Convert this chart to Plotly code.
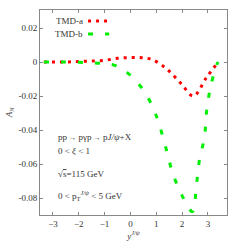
import plotly.graph_objects as go

# TMD-a (red dotted)
xa = [-3.35, -2.5, -2.0, -1.5, -1.0, -0.5, 0.0, 0.45, 0.85, 1.4, 1.98, 2.44, 2.95, 3.4]
ya = [0.0, 0.0, 0.0003, 0.0006, 0.001, 0.0022, 0.0026, 0.0025, 0.0014, -0.004, -0.013, -0.020, -0.009, 0.0]
# TMD-b (green dashed)
xb = [-3.35, -2.5, -2.0, -1.5, -1.0, -0.6, -0.1, 0.43, 0.85, 1.12, 1.4, 1.63, 1.98, 2.4,
      2.56, 2.67, 2.87, 2.95, 3.1, 3.33, 3.4]
yb = [0.0, 0.0, -0.0002, -0.0005, -0.001, -0.002, -0.0065, -0.015, -0.026, -0.037, -0.052,
      -0.065, -0.078, -0.088, -0.072, -0.058, -0.044, -0.029, -0.015, -0.002, 0.0]

xticks = [-3, -2, -1, 0, 1, 2, 3]
xticktext = ["\u22123", "\u22122", "\u22121", "0", "1", "2", "3"]
yticks = [0.02, 0.0, -0.02, -0.04, -0.06, -0.08]
yticktext = ["0.02", "0", "-0.02", "-0.04", "-0.06", "-0.08"]

series_names = ["TMD-a", "TMD-b"]
colors = ["#ff0000", "#00ee00"]
dashes = ["3px,5px", "5px,12px"]

font = "Liberation Serif"

fig = go.Figure()
fig.add_trace(go.Scatter(x=xa, y=ya, mode="lines", line=dict(color=colors[0], width=3, dash=dashes[0], shape="spline"),
                         name=series_names[0], showlegend=False))
fig.add_trace(go.Scatter(x=xb, y=yb, mode="lines", line=dict(color=colors[1], width=3, dash=dashes[1], shape="spline"),
                         name=series_names[1], showlegend=False))

# legend (gnuplot style: text then sample)
leg_y = [0.946, 0.883]
for name, c, d, ly in zip(series_names, colors, dashes, leg_y):
    fig.add_annotation(x=0.24, y=ly, xref="paper", yref="paper", text=name, showarrow=False,
                       xanchor="right", yanchor="middle", font=dict(family=font, size=9, color="#333"))
    fig.add_shape(type="line", x0=0.257, x1=0.37, y0=ly, y1=ly, xref="paper", yref="paper",
                  line=dict(color=c, width=3, dash=d))

arrow = "<span style='font-size:7px'>\u2192</span>"
labels = ["pp " + arrow + " p\u03b3p " + arrow + " p<i>J/\u03c8</i>+X",
          "0 &lt; <i>\u03be</i> &lt; 1",
          "\u221a<span style='text-decoration:overline'>s</span>=115 GeV",
          "0 &lt; p<sub>T</sub><sup><i>J/\u03c8</i></sup> &lt; 5 GeV"]
label_y = [0.38, 0.312, 0.2, 0.093]
for t, ly in zip(labels, label_y):
    fig.add_annotation(x=0.085, y=ly, xref="paper", yref="paper", text=t, showarrow=False,
                       xanchor="left", yanchor="middle", font=dict(family=font, size=9, color="#333"))

axis_common = dict(showgrid=False, zeroline=False, showline=True, linecolor="#888", linewidth=1,
                   mirror="ticks", ticks="inside", ticklen=3, tickcolor="#888", automargin=False,
                   tickfont=dict(family=font, size=9, color="#333"))
fig.update_xaxes(range=[-3.5, 3.74], tickvals=xticks, ticktext=xticktext,
                 title=dict(text="<i>y<sup>J/\u03c8</sup></i>", font=dict(family=font, size=9, color="#333"), standoff=4),
                 **axis_common)
fig.update_yaxes(range=[-0.09, 0.0306], tickvals=yticks, ticktext=yticktext,
                 title=dict(text="<i>A<sub>N</sub></i>", font=dict(family=font, size=9, color="#333"), standoff=4),
                 **axis_common)

fig.update_layout(width=240, height=251, margin=dict(l=40, r=13, t=10, b=36),
                  paper_bgcolor="white", plot_bgcolor="white", showlegend=False)

fig.write_html("out.html", config={"displayModeBar": False},
               post_script="document.body.style.margin='0';document.body.style.overflow='hidden';")
